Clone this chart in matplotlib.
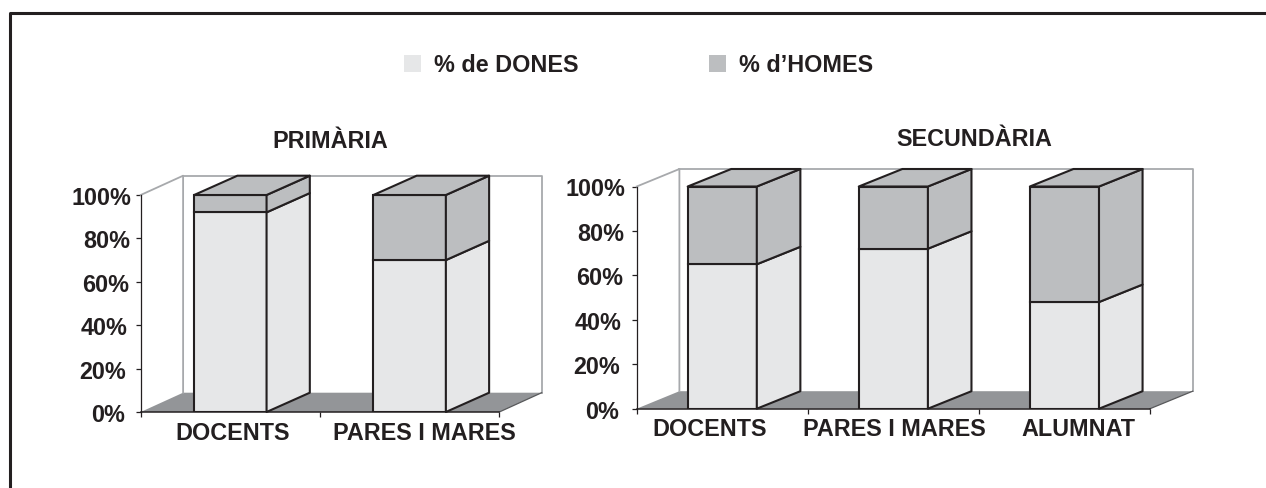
# Stacked percentage bars drawn with a fake 3D look, like the old spreadsheet charts
import matplotlib.pyplot as plt
from matplotlib.patches import Patch, Polygon
from matplotlib.transforms import ScaledTranslation

W, H = 1266, 488

legend_labels = ["% de DONES", "% d\u2019HOMES"]
y_ticks = [0, 20, 40, 60, 80, 100]

primaria_title = "PRIM\u00c0RIA"
primaria_cats = ["DOCENTS", "PARES I MARES"]
primaria_dones = [92, 70]
primaria_homes = [8, 30]

secundaria_title = "SECUND\u00c0RIA"
secundaria_cats = ["DOCENTS", "PARES I MARES", "ALUMNAT"]
secundaria_dones = [65, 72, 48]
secundaria_homes = [35, 28, 52]

DARK = "#231f20"
WALL = "#a7a9ac"
FLOOR = "#939598"
C_DONES = "#e6e7e8"
C_HOMES = "#bcbec0"
FS = 16.8

plt.rcParams["font.family"] = ["Liberation Sans", "DejaVu Sans"]
plt.rcParams["font.weight"] = "bold"

fig = plt.figure(figsize=(W / 100, H / 100), dpi=100)


def pseudo3d(x0, x1, x_back, y0, y100, y_back, cats, dones, homes, label_shift, label_drop, pad):
    # x0-x1 is the front plane in pixels, x_back/y_back the far corner of the walls
    n = len(cats)
    cat_w = (x1 - x0) / n
    dx = (x_back - x1) / cat_w
    dy = (y100 - y_back) / (y0 - y100) * 100
    ax = fig.add_axes(
        [x0 / W, 1 - y0 / H, (x_back - x0) / W, (y0 - y_back) / H],
        facecolor="none",
    )
    ax.set_xlim(0, n + dx)
    ax.set_ylim(0, 100 + dy)

    # floor and walls
    ax.add_patch(Polygon([(0, 0), (dx, dy), (n + dx, dy), (n, 0)], fc=FLOOR, ec="none"))
    ax.plot([0, dx, dx], [100, 100 + dy, dy], color=WALL, lw=1.3, clip_on=False)
    ax.plot([dx, n + dx, n + dx], [100 + dy, 100 + dy, dy], color=WALL, lw=1.3, clip_on=False)
    ax.plot([n + dx, n], [dy, 0], color="#58595b", lw=0.9, clip_on=False)

    # bars
    bar_w = 0.404
    bar_dx = dx * 1.02
    for i in range(n):
        left = i + 0.5 - bar_w / 2
        right = left + bar_w
        base = 0
        for val, col in [(dones[i], C_DONES), (homes[i], C_HOMES)]:
            top = base + val
            ax.bar(i + 0.5, val, bar_w, bottom=base, color=col, ec=DARK, lw=1.5, zorder=3)
            ax.add_patch(
                Polygon(
                    [(right, base), (right + bar_dx, base + dy), (right + bar_dx, top + dy), (right, top)],
                    fc=col, ec=DARK, lw=1.5, zorder=3, clip_on=False, joinstyle="round",
                )
            )
            base = top
        ax.add_patch(
            Polygon(
                [(left, base), (left + bar_dx, base + dy), (right + bar_dx, base + dy), (right, base)],
                fc=C_HOMES, ec=DARK, lw=1.5, zorder=3, clip_on=False, joinstyle="round",
            )
        )

    # axes, only along the front plane
    for s in ["top", "right"]:
        ax.spines[s].set_visible(False)
    ax.spines["left"].set_bounds(0, 100)
    ax.spines["bottom"].set_bounds(0, n)
    ax.spines["left"].set_linewidth(0.9)
    ax.spines["bottom"].set_linewidth(1.1)
    ax.spines["left"].set_color(DARK)
    ax.spines["bottom"].set_color(DARK)
    ax.spines["left"].set_zorder(4)
    ax.spines["bottom"].set_zorder(4)
    ax.set_xticks(range(n + 1))
    ax.set_xticklabels([])
    ax.set_yticks(y_ticks)
    ax.set_yticklabels([f"{t}%" for t in y_ticks], fontsize=FS, color=DARK, fontweight="bold")
    ax.tick_params(axis="both", length=3.6, width=0.9, color=DARK)
    ax.tick_params(axis="y", pad=pad)
    # the labels lean a little in the original: the top one sits further right
    for t, lab in zip(y_ticks, ax.get_yticklabels()):
        nudge = ScaledTranslation((t - 50) * 0.06 / 100, -1 / 100, fig.dpi_scale_trans)
        lab.set_transform(lab.get_transform() + nudge)

    for i, cat in enumerate(cats):
        ax.annotate(
            cat, xy=(i + 0.5, 0), xytext=(label_shift[i] * 0.72, -label_drop * 0.72),
            textcoords="offset points", ha="center", va="baseline",
            fontsize=FS, fontweight="bold", color=DARK, annotation_clip=False,
        )
    return ax


pseudo3d(140.7, 499.3, 541.7, 412, 195, 175.7,
         primaria_cats, primaria_dones, primaria_homes, [2, 14.5], 28, 5.5)
pseudo3d(636.7, 1150, 1192.7, 408.7, 186.5, 169,
         secundaria_cats, secundaria_dones, secundaria_homes, [-13, 1, 14], 27.5, 6.8)

fig.text(330 / W, 1 - 148.5 / H, primaria_title, ha="center", va="baseline",
         fontsize=FS, fontweight="bold", color=DARK)
fig.text(974 / W, 1 - 146.5 / H, secundaria_title, ha="center", va="baseline",
         fontsize=FS, fontweight="bold", color=DARK)

handles = [Patch(fc=C_DONES, ec="none"), Patch(fc=C_HOMES, ec="none")]
fig.legend(
    handles, legend_labels, ncol=2, frameon=False, fontsize=FS,
    loc="center", bbox_to_anchor=(638.5 / W, 1 - 65.5 / H),
    handlelength=0.73, handleheight=0.73, handletextpad=0.56, columnspacing=5.6,
    labelcolor=DARK,
)

# outer frame, only top and left
fig.add_artist(plt.Line2D([9.5 / W, 9.5 / W, 1], [0, 1 - 12.5 / H, 1 - 12.5 / H],
                          color=DARK, lw=2.2, transform=fig.transFigure))

fig.savefig("out.png", dpi=100)
